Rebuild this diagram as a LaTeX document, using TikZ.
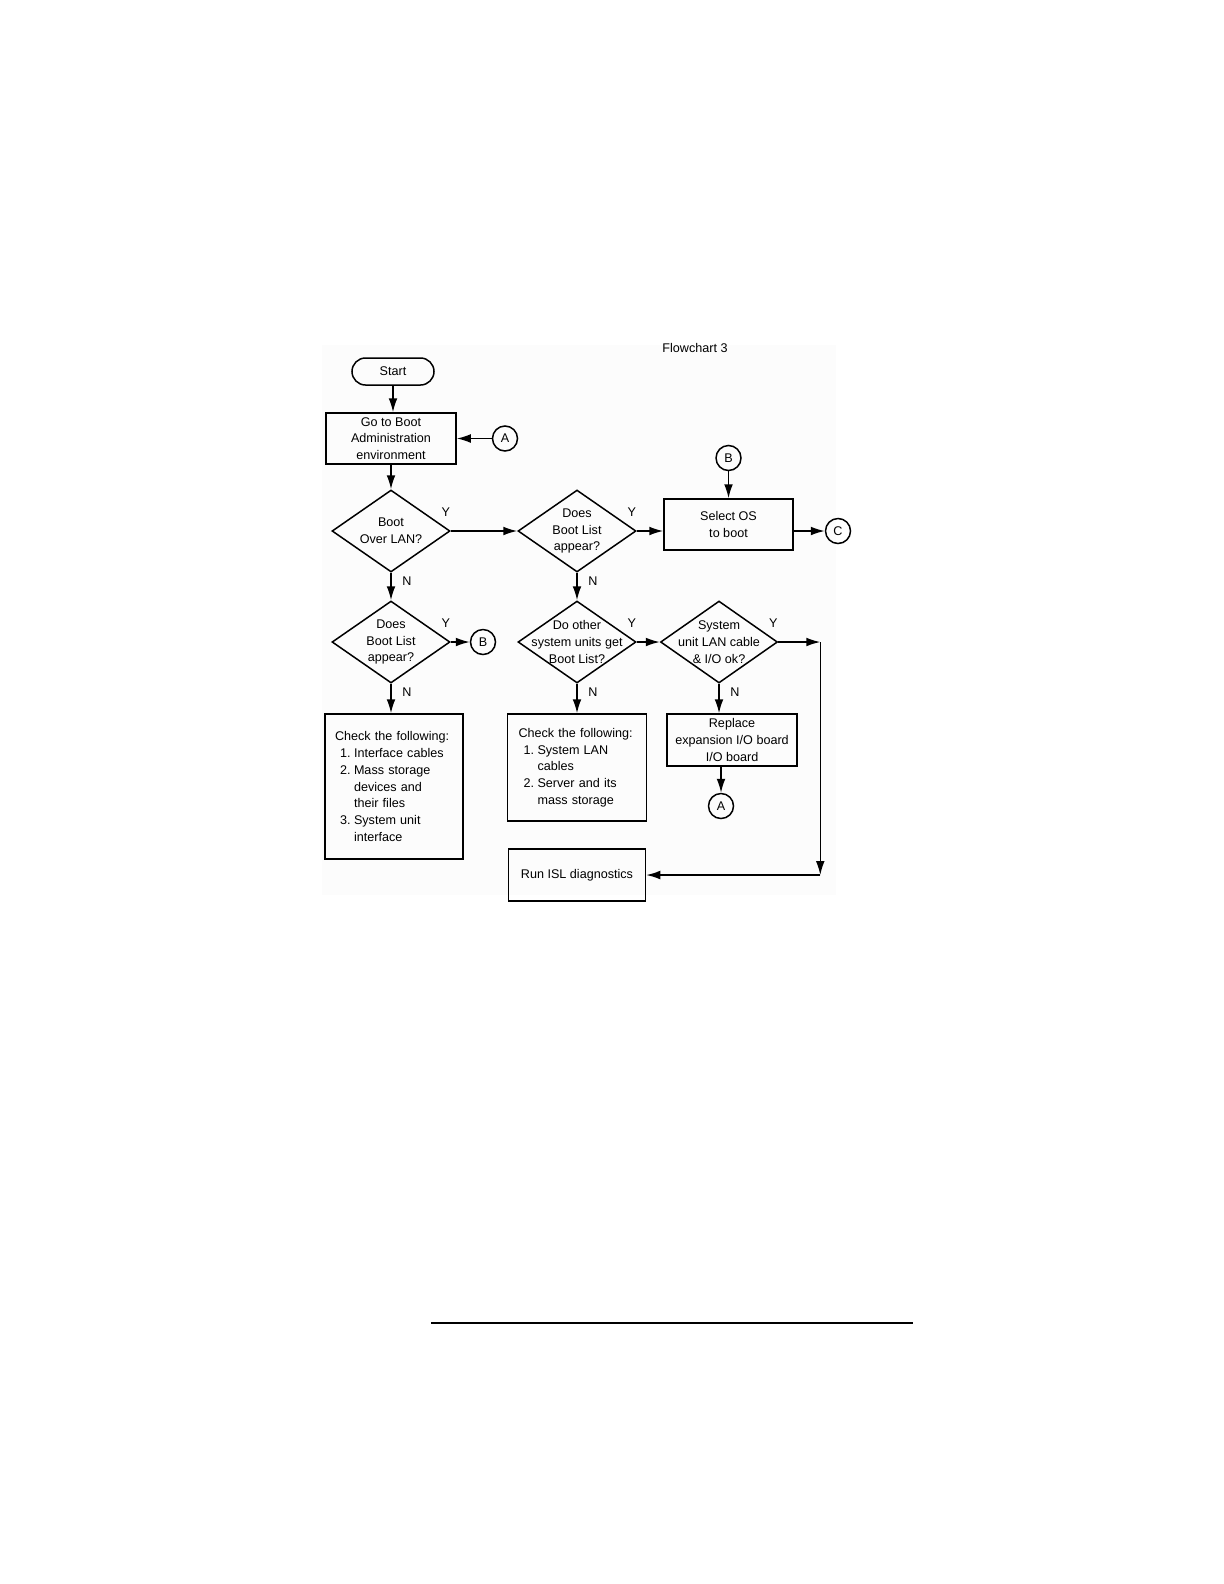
\documentclass[tikz,border=0pt]{standalone}
\usepackage{fontspec}
\setmainfont{Liberation Sans}
\usepackage{tikz}
\usetikzlibrary{shapes.geometric, positioning, arrows.meta}
\tikzset{
  startstop/.style={rectangle, rounded corners=6.75bp, minimum width=41bp, minimum height=13.5bp, text centered, draw=black},
  process/.style={rectangle, minimum width=65bp, minimum height=25.5bp, inner sep=0.5bp, align=center, draw=black},
  decision/.style={diamond, minimum width=59bp, minimum height=41bp, inner sep=0pt, draw=black},
  conn/.style={circle, minimum size=12.5bp, inner sep=0pt, draw=black},
  checkbox/.style={rectangle, align=left, inner xsep=5bp, draw=black},
  qtext/.style={align=center},
  ylab/.style={pos=0, xshift=-2.5bp, yshift=9.5bp},
  nlab/.style={pos=0, xshift=8bp, yshift=-4.25bp},
  arrow/.style={-{Latex[length=7bp,width=4.4bp]}}
}
\newcommand{\chkitem}[2]{\hspace*{2.5bp}\makebox[7bp][l]{#1}#2}
\newcommand{\chkcont}[1]{\hspace*{9.5bp}#1}

\begin{document}
\begin{tikzpicture}[
    x=0.5bp, y=-0.5bp, on grid,
    line width=0.75bp,
    every node/.style={font=\fontsize{6.3bp}{8.35bp}\selectfont}
  ]
  \useasboundingbox (0,0) rectangle (1224,1584);
  \fill[black!1] (322,345) rectangle (836,895);

  \node (title) at (695,348) {Flowchart 3};

  % first column
  \node (start) [startstop] at (393,371.5) {Start};
  \node (goboot) [process, below left=33.5bp and 1bp of start] {Go to Boot\\Administration\\environment};
  \node (cA1) [conn, right=57bp of goboot] {A};
  \node (lan) [decision, below=46.25bp of goboot, label={[qtext]center:{Boot\\Over LAN?}}] {};
  \node (list2) [decision, below=55.5bp of lan, label={[qtext]center:{Does\\Boot List\\appear?}}] {};
  \node (cB2) [conn, right=46bp of list2] {B};
  \node (check1) [checkbox, text width=59bp, minimum height=72.5bp, below right=72.25bp and 1.5bp of list2]
    {Check the following:\\
     \chkitem{1.}{Interface cables}\\
     \chkitem{2.}{Mass storage}\\
     \chkcont{devices and}\\
     \chkcont{their files}\\
     \chkitem{3.}{System unit}\\
     \chkcont{interface}};

  % second column
  \node (list1) [decision, right=93bp of lan, label={[qtext]center:{Does\\Boot List\\appear?}}] {};
  \node (other) [decision, below=55.5bp of list1, label={[qtext]center:{Do other\\system units get\\Boot List?}}] {};
  \node (check2) [checkbox, inner xsep=5.5bp, text width=58.5bp, minimum height=53.5bp, below=62.75bp of other]
    {Check the following:\\
     \chkitem{1.}{System LAN}\\
     \chkcont{cables}\\
     \chkitem{2.}{Server and its}\\
     \chkcont{mass storage}};
  \node (run) [process, minimum width=68.5bp, minimum height=26bp, below=53.75bp of check2] {Run ISL diagnostics};

  % third column
  \node (selos) [process, minimum width=64.5bp, above right=3.25bp and 75.75bp of list1] {Select OS\\to boot};
  \node (cB1) [conn, above=33.25bp of selos] {B};
  \node (cC) [conn, right=130.5bp of list1] {C};
  \node (lanok) [decision, minimum width=58.5bp, right=71bp of other, label={[qtext]center:{System\\unit LAN cable\\\& I/O ok?}}] {};
  \node (replace) [process, minimum height=26bp, below right=49bp and 6.5bp of lanok] {Replace\\expansion I/O board\\I/O board};
  \node (cA2) [conn, below left=33bp and 5.5bp of replace] {A};
  \coordinate [right=21bp of lanok.east] (bend1);
  \coordinate (bend2) at (bend1 |- run);

  % connectors
  \draw [arrow] (start) -- (start |- goboot.north);
  \draw [arrow] (cA1) -- (goboot);
  \draw [arrow] (goboot) -- (lan);
  \draw [arrow] (lan) -- node[ylab] {Y} (list1);
  \draw [arrow] (list1) -- node[ylab] {Y} (list1 -| selos.west);
  \draw [arrow] (cB1) -- (cB1 |- selos.north);
  \draw [arrow] (selos.east |- cC) -- (cC);
  \draw [arrow] (lan) -- node[nlab] {N} (list2);
  \draw [arrow] (list2) -- node[ylab] {Y} (cB2);
  \draw [arrow] (list2) -- node[nlab] {N} (list2 |- check1.north);
  \draw [arrow] (list1) -- node[nlab] {N} (other);
  \draw [arrow] (other) -- node[ylab] {Y} (lanok);
  \draw [arrow] (other) -- node[nlab] {N} (check2);
  \draw [arrow] (lanok) -- node[nlab] {N} (lanok |- replace.north);
  \draw [arrow] (cA2 |- replace.south) -- (cA2);
  \draw [arrow] (lanok) -- node[ylab] {Y} (bend1);
  \draw [arrow] (bend1) -- (bend2);
  \draw [arrow] (bend2) -- (run);

  \draw [line width=1bp] (431,1323) -- (913,1323);
\end{tikzpicture}
\end{document}
